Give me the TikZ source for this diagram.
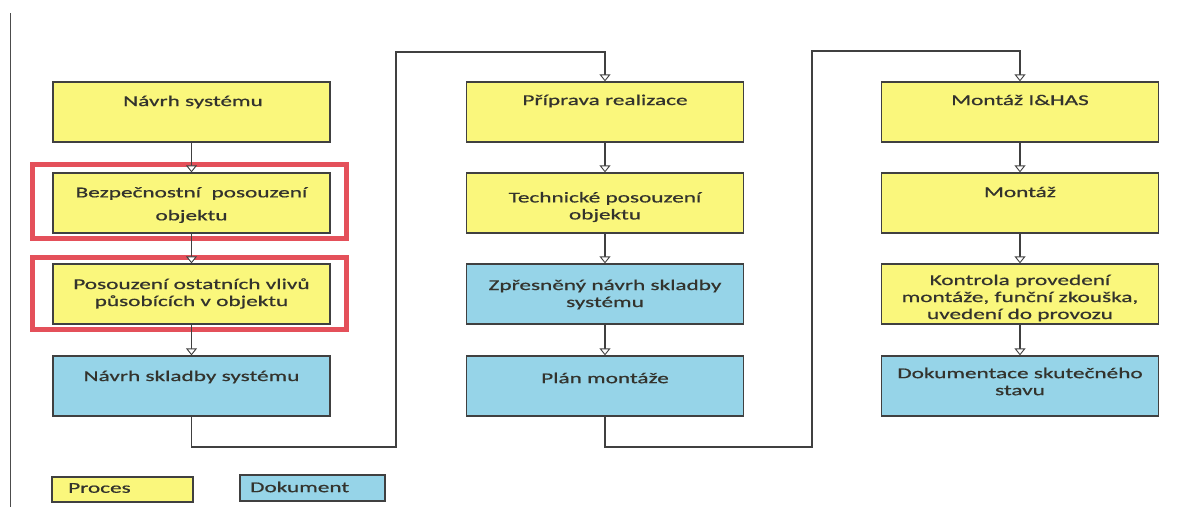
\documentclass[tikz,border=0pt]{standalone}
\usepackage{fontspec}
\setmainfont{Carlito}[FakeStretch=1.55,FakeBold=0.7]
\usetikzlibrary{arrows.meta}
\definecolor{procY}{HTML}{FAF77C}
\definecolor{docB}{HTML}{96D4E8}
\definecolor{edgeC}{HTML}{404040}
\definecolor{redC}{HTML}{E4505A}
\definecolor{txtC}{HTML}{33332D}
\tikzset{
  procbox/.style={draw=edgeC, line width=1.3pt, fill=procY, minimum width=277pt, minimum height=60pt, inner sep=0pt},
  docbox/.style={draw=edgeC, line width=1.3pt, fill=docB, minimum width=277pt, minimum height=60pt, inner sep=0pt},
  legproc/.style={draw=edgeC, line width=1.3pt, fill=procY, minimum width=141pt, minimum height=25pt, inner sep=0pt},
  legdoc/.style={draw=edgeC, line width=1.3pt, fill=docB, minimum width=145pt, minimum height=26pt, inner sep=0pt},
  txt/.style={font=\fontsize{15pt}{17pt}\selectfont, text=txtC, align=center, inner sep=0pt},
  redframe/.style={draw=redC, line width=5pt},
  conn/.style={draw=edgeC, line width=1.2pt, -{Triangle[width=11pt,length=7pt,fill=white,line width=0.9pt]}},
  plainline/.style={draw=edgeC, line width=1.2pt}
}
\begin{document}
\begin{tikzpicture}[x=1pt,y=-1pt]
\useasboundingbox[fill=white] (0,0) rectangle (1178,507);
% left margin line
\coordinate (m1) at (10,13);
\coordinate (m2) at (10,507);
\draw[black!70, line width=1pt] (m1) -- (m2);
% red frames
\node[redframe, minimum width=314pt, minimum height=74pt, inner sep=0pt] (r1) at (189.5,201.5) {};
\node[redframe, minimum width=314pt, minimum height=72pt, inner sep=0pt] (r2) at (189.5,293.5) {};
% column 1
\node[procbox] (a1) at (191.5,112) {};
\node[procbox] (a2) at (191.5,203) {};
\node[procbox] (a3) at (191.5,294) {};
\node[docbox]  (a4) at (191.5,386) {};
% column 2
\node[procbox] (b1) at (605,112) {};
\node[procbox] (b2) at (605,203) {};
\node[docbox]  (b3) at (605,294) {};
\node[docbox]  (b4) at (605,386) {};
% column 3
\node[procbox] (c1) at (1020,112) {};
\node[procbox] (c2) at (1020,203) {};
\node[procbox] (c3) at (1020,294) {};
\node[docbox]  (c4) at (1020,386) {};
% texts
\node[txt] (a1t) at (193,102) {Návrh systému};
\node[txt] (a2t) at (191.5,205) {Bezpečnostní\ \ posouzení\\[6pt]objektu};
\node[txt] (a3t) at (191.5,293.5) {Posouzení ostatních vlivů\\působících v objektu};
\node[txt] (a4t) at (191.5,377) {Návrh skladby systému};
\node[txt] (b1t) at (605,101) {Příprava realizace};
\node[txt] (b2t) at (605,207) {Technické posouzení\\objektu};
\node[txt] (b3t) at (605,294.5) {Zpřesněný návrh skladby\\systému};
\node[txt] (b4t) at (605,378) {Plán montáže};
\node[txt] (c1t) at (1020,100) {Montáž I\&HAS};
\node[txt] (c2t) at (1020,192) {Montáž};
\node[txt] (c3t) at (1020,298) {Kontrola provedení\\montáže, funční zkouška,\\uvedení do provozu};
\node[txt] (c4t) at (1020,381.5) {Dokumentace skutečného\\stavu};
% legend
\node[legproc] (lp) at (122.5,489.5) {};
\node[legdoc]  (ld) at (312.5,488) {};
\node[txt, anchor=west] (lpt) at (68,488) {Proces};
\node[txt, anchor=west] (ldt) at (250,487) {Dokument};
% connectors
\draw[conn] (a1.south) -- (a2.north);
\draw[conn] (a2.south) -- (a3.north);
\draw[conn] (a3.south) -- (a4.north);
\draw[conn] (b1.south) -- (b2.north);
\draw[conn] (b2.south) -- (b3.north);
\draw[conn] (b3.south) -- (b4.north);
\draw[conn] (c1.south) -- (c2.north);
\draw[conn] (c2.south) -- (c3.north);
\draw[conn] (c3.south) -- (c4.north);
\coordinate (j1) at (396,447);
\coordinate (j1t) at (396,52);
\coordinate (j2) at (812,447);
\coordinate (j2t) at (812,51);
\draw[conn] (a4.south) |- (j1) -- (j1t) -| (b1.north);
\draw[conn] (b4.south) |- (j2) -- (j2t) -| (c1.north);
\end{tikzpicture}
\end{document}
